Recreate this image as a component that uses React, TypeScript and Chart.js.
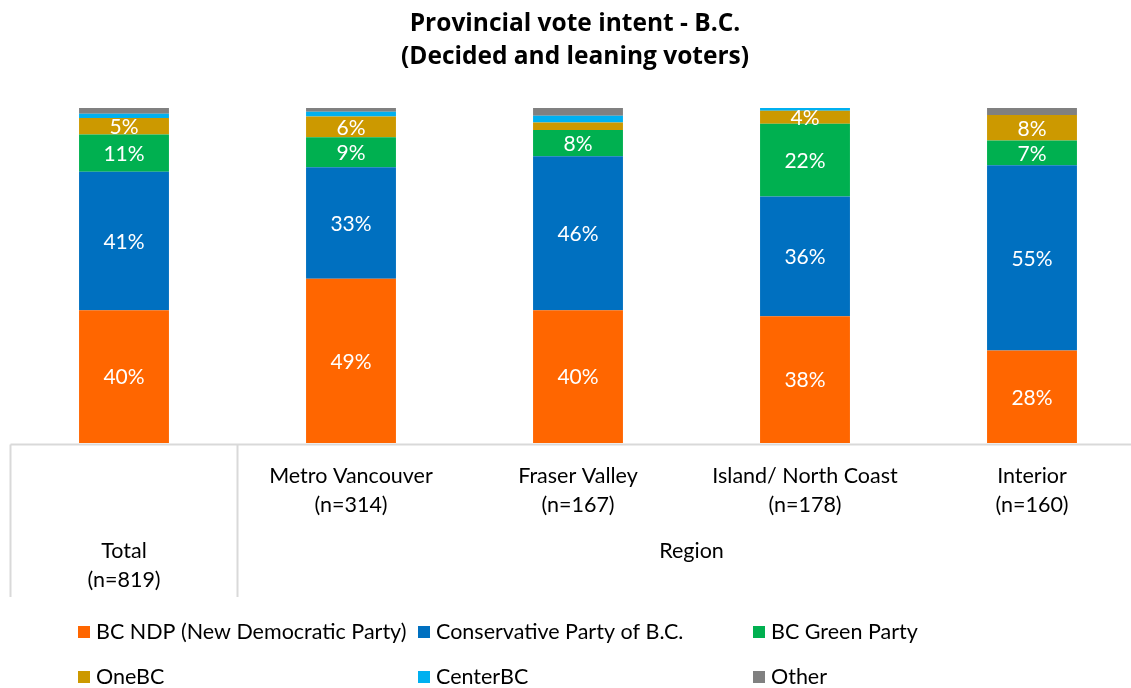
import React, { useEffect, useRef } from "react";
import { Chart, registerables } from "chart.js";
Chart.register(...registerables);

const categories = ["Total", "Metro Vancouver", "Fraser Valley", "Island/ North Coast", "Interior"];
const sampleSizes = ["(n=819)", "(n=314)", "(n=167)", "(n=178)", "(n=160)"];
const groupLabel = "Region";
const titleLines = ["Provincial vote intent - B.C.", "(Decided and leaning voters)"];

const ndp = [39.6, 49.0, 39.6, 37.8, 27.6];
const conservative = [41.4, 33.3, 46.0, 35.8, 55.3];
const green = [11.1, 9.0, 7.8, 21.7, 7.4];
const oneBC = [4.9, 6.2, 2.3, 3.9, 7.6];
const centerBC = [1.3, 1.4, 2.0, 0.8, 0.0];
const other = [1.7, 1.1, 2.3, 0.0, 2.1];

const seriesNames = [
  "BC NDP (New Democratic Party)",
  "Conservative Party of B.C.",
  "BC Green Party",
  "OneBC",
  "CenterBC",
  "Other",
];
const seriesColors = ["#FF6600", "#0070C0", "#00B050", "#CC9900", "#00B0F0", "#808080"];
const seriesValues = [ndp, conservative, green, oneBC, centerBC, other];
const labelledSeries = 4;

const FONT = "Lato, 'Open Sans', sans-serif";
const TITLE_FONT = "'Open Sans', Lato, sans-serif";
const LABEL_SIZE = 21.5;
const DATA_SIZE = 21;

const overlayPlugin = {
  id: "overlay",
  afterDatasetsDraw(chart: any) {
    const ctx = chart.ctx;
    ctx.save();
    ctx.font = `${DATA_SIZE}px ${FONT}`;
    ctx.fillStyle = "#FFFFFF";
    ctx.textAlign = "center";
    ctx.textBaseline = "middle";
    chart.data.datasets.forEach((ds: any, di: number) => {
      if (di >= labelledSeries) return;
      const meta = chart.getDatasetMeta(di);
      meta.data.forEach((el: any, i: number) => {
        const v = ds.data[i];
        if (v < 3.5) return;
        const { x, y, base } = el.getProps(["x", "y", "base"], true);
        ctx.fillText(`${Math.round(v)}%`, x, (y + base) / 2 + 1);
      });
    });
    ctx.restore();
  },
  afterDraw(chart: any) {
    const ctx = chart.ctx;
    const area = chart.chartArea;
    const xs = chart.scales.x;
    ctx.save();
    // title
    ctx.fillStyle = "#000000";
    ctx.textAlign = "center";
    ctx.textBaseline = "middle";
    ctx.font = `bold 24.5px ${TITLE_FONT}`;
    const cx = 575;
    ctx.fillText(titleLines[0], cx, 24);
    ctx.fillText(titleLines[1], cx, 57);

    // category table lines
    const axisY = area.bottom + 1.5;
    const tableBottom = 597;
    const sep = (xs.getPixelForValue(0) + xs.getPixelForValue(1)) / 2;
    ctx.strokeStyle = "#D9D9D9";
    ctx.lineWidth = 2;
    ctx.beginPath();
    ctx.moveTo(area.left, axisY);
    ctx.lineTo(area.right, axisY);
    ctx.moveTo(area.left, axisY);
    ctx.lineTo(area.left, tableBottom);
    ctx.moveTo(sep, axisY);
    ctx.lineTo(sep, tableBottom);
    ctx.moveTo(area.right, axisY);
    ctx.lineTo(area.right, tableBottom);
    ctx.stroke();

    // category labels
    ctx.fillStyle = "#000000";
    ctx.font = `${LABEL_SIZE}px ${FONT}`;
    categories.forEach((c, i) => {
      const x = xs.getPixelForValue(i);
      if (i === 0) {
        ctx.fillText(c, x, 551);
        ctx.fillText(sampleSizes[i], x, 580);
      } else {
        ctx.fillText(c, x, 476);
        ctx.fillText(sampleSizes[i], x, 505);
      }
    });
    ctx.fillText(groupLabel, (sep + area.right) / 2, 551);

    // legend
    const colX = [78, 418, 753];
    const rowY = [632, 677];
    ctx.textAlign = "left";
    seriesNames.forEach((name, i) => {
      const col = i % 3;
      const row = Math.floor(i / 3);
      const x = colX[col];
      const y = rowY[row];
      ctx.fillStyle = seriesColors[i];
      ctx.fillRect(x, y - 6, 12, 12);
      ctx.fillStyle = "#000000";
      ctx.fillText(name, x + 18, y);
    });
    ctx.restore();
  },
};

export default function App() {
  const ref = useRef<HTMLCanvasElement | null>(null);
  useEffect(() => {
    if (!ref.current) return;
    const chart = new Chart(ref.current, {
      type: "bar",
      data: {
        labels: categories,
        datasets: seriesNames.map((name, i) => ({
          label: name,
          data: seriesValues[i],
          backgroundColor: seriesColors[i],
          borderWidth: 0,
          categoryPercentage: 1,
          barPercentage: 0.396,
        })),
      },
      options: {
        animation: false,
        responsive: true,
        maintainAspectRatio: false,
        layout: { padding: { left: 10.5, right: 8.5, top: 108, bottom: 245 } },
        plugins: {
          legend: { display: false },
          title: { display: false },
          tooltip: { enabled: false },
        },
        scales: {
          x: { stacked: true, display: false },
          y: { stacked: true, display: false, min: 0, max: 100 },
        },
      },
      plugins: [overlayPlugin],
    });
    return () => chart.destroy();
  }, []);
  return (
    <div style={{ position: "fixed", left: 0, top: 0, width: 1131, height: 688, overflow: "hidden", background: "#fff" }}>
      <div style={{ position: "absolute", left: 0, top: 0, width: 1154, height: 688 }}>
        <canvas ref={ref} />
      </div>
    </div>
  );
}
